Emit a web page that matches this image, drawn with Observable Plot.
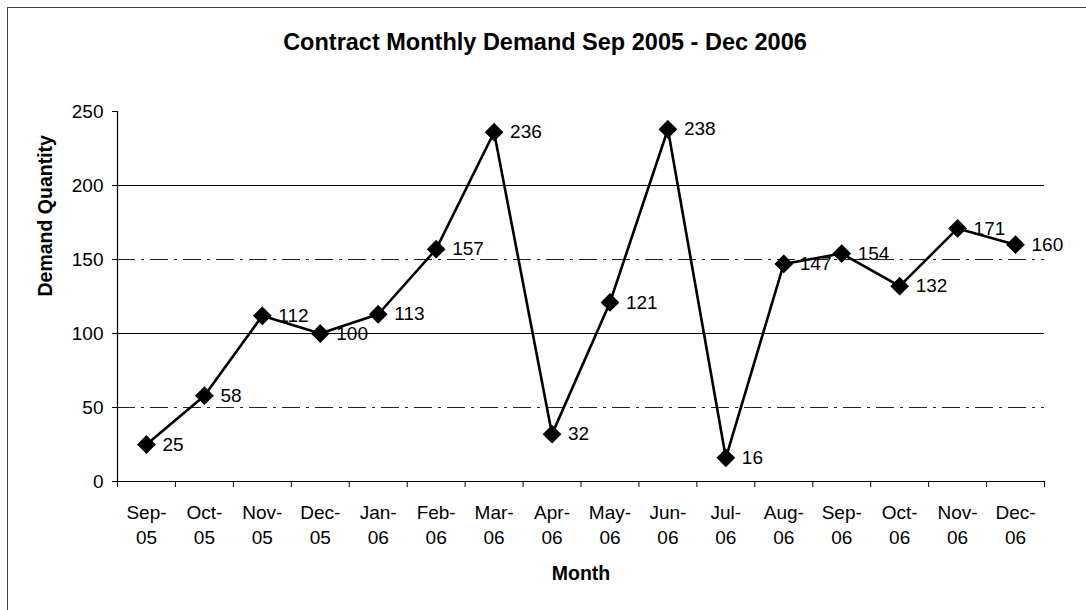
<!DOCTYPE html>
<html>
<head>
<meta charset="utf-8">
<script src="https://cdn.jsdelivr.net/npm/d3@7"></script>
<script src="https://cdn.jsdelivr.net/npm/@observablehq/plot@0.6"></script>
<style>
  html, body { margin: 0; padding: 0; background: #fff; }
  #wrap { position: relative; width: 1086px; height: 610px; overflow: hidden; font-family: Arial, "Liberation Sans", sans-serif; }
  #border { position: absolute; left: 7px; top: 7px; width: 1100px; height: 620px; border-top: 1px solid #444; border-left: 1px solid #444; box-sizing: border-box; }
  #title { position: absolute; top: 29px; left: 0; width: 1090px; text-align: center; font-weight: bold; font-size: 23.5px; color: #000; }
  #chart { position: absolute; left: 0; top: 0; }
</style>
</head>
<body>
<div id="wrap">
  <div id="border"></div>
  <div id="title">Contract Monthly Demand Sep 2005 - Dec 2006</div>
  <div id="chart"></div>
</div>
<script>
const months = ["Sep-\n05","Oct-\n05","Nov-\n05","Dec-\n05","Jan-\n06","Feb-\n06","Mar-\n06","Apr-\n06","May-\n06","Jun-\n06","Jul-\n06","Aug-\n06","Sep-\n06","Oct-\n06","Nov-\n06","Dec-\n06"];
const demand = [25, 58, 112, 100, 113, 157, 236, 32, 121, 238, 16, 147, 154, 132, 171, 160];
const yTicks = [0, 50, 100, 150, 200, 250];
const solidGrid = [100, 200];
const dashedGrid = [50, 150];
const xLabel = "Month";
const yLabel = "Demand Quantity";

const data = demand.map((v, i) => ({i, v, m: months[i]}));
const boundaries = d3.range(months.length + 1).map(k => k - 0.5);

const plot = Plot.plot({
  width: 1086,
  height: 610,
  marginLeft: 117,
  marginRight: 42,
  marginTop: 111,
  marginBottom: 129,
  style: {fontFamily: "Arial, 'Liberation Sans', sans-serif", fontSize: "19px", color: "#000", background: "transparent"},
  x: {type: "linear", domain: [-0.5, months.length - 0.5], axis: null},
  y: {domain: [0, 250], axis: null},
  marks: [
    Plot.ruleY(solidGrid, {stroke: "#000", strokeWidth: 1}),
    Plot.ruleY(dashedGrid, {stroke: "#222", strokeWidth: 1, strokeDasharray: "18,6,3,6"}),
    Plot.ruleY([0], {stroke: "#000", strokeWidth: 1.2}),
    Plot.ruleX([boundaries[0]], {stroke: "#000", strokeWidth: 1.2}),
    Plot.axisY({ticks: yTicks, tickSize: 5, tickPadding: 9, fontSize: 19, label: null, stroke: "#000"}),
    Plot.axisX({ticks: boundaries, tickSize: 6, tickFormat: () => "", label: null, stroke: "#000"}),
    Plot.text(data, {x: "i", y: 0, text: "m", lineAnchor: "top", dy: 20, fontSize: 19, lineHeight: 1.3, fill: "#000"}),
    Plot.text([xLabel], {frameAnchor: "bottom", dy: 98, fontWeight: "bold", fontSize: 19.5, fill: "#000"}),
    Plot.text([yLabel], {frameAnchor: "left", rotate: -90, dx: -72, fontWeight: "bold", fontSize: 19.5, fill: "#000"}),
    Plot.line(data, {x: "i", y: "v", stroke: "#000", strokeWidth: 2.6}),
    Plot.dot(data, {x: "i", y: "v", symbol: "diamond2", r: 7.5, fill: "#000", stroke: "#000"}),
    Plot.text(data, {x: "i", y: "v", text: d => String(d.v), textAnchor: "start", dx: 16, fontSize: 19, fill: "#000"})
  ]
});
document.getElementById("chart").appendChild(plot);
</script>
</body>
</html>
